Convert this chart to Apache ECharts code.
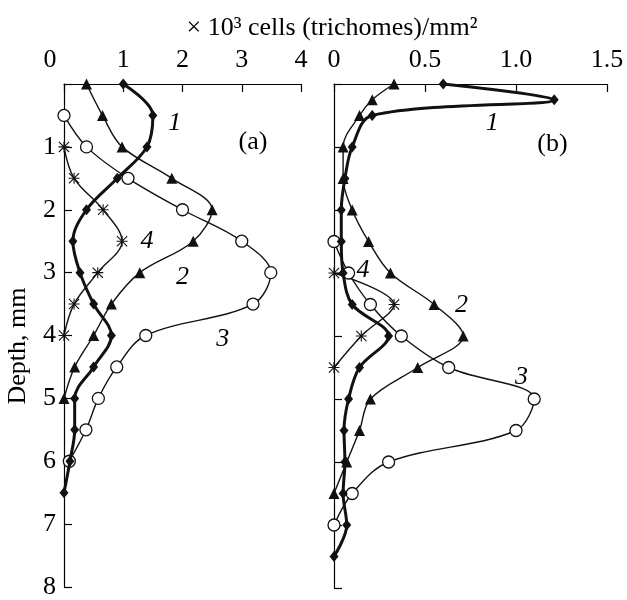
<!DOCTYPE html>
<html>
<head>
<meta charset="utf-8">
<script src="https://cdn.jsdelivr.net/npm/echarts@6/dist/echarts.min.js"></script>
<style>
html, body { margin: 0; padding: 0; background: #fff; }
#chart { width: 627px; height: 600px; }
</style>
</head>
<body>
<div id="chart"></div>
<script>
// panel (a): x = cells x10^3 / mm2, depth in mm
var depthA1 = [0, 0.5, 1, 1.5, 2, 2.5, 3, 3.5, 4, 4.5, 5, 5.5, 6, 6.5];
var valA1 = [1.0, 1.5, 1.4, 0.9, 0.38, 0.15, 0.27, 0.5, 0.8, 0.5, 0.18, 0.18, 0.1, 0];
var depthA2 = [0, 0.5, 1, 1.5, 2, 2.5, 3, 3.5, 4, 4.5, 5];
var valA2 = [0.38, 0.65, 0.98, 1.82, 2.5, 2.18, 1.28, 0.8, 0.5, 0.18, 0];
var depthA3 = [0.5, 1, 1.5, 2, 2.5, 3, 3.5, 4, 4.5, 5, 5.5, 6];
var valA3 = [0, 0.38, 1.08, 2.0, 3.0, 3.49, 3.19, 1.38, 0.89, 0.58, 0.37, 0.09];
var depthA4 = [1, 1.5, 2, 2.5, 3, 3.5, 4];
var valA4 = [0, 0.17, 0.66, 0.98, 0.57, 0.17, 0];

// panel (b)
var depthB1 = [0, 0.25, 0.5, 1, 1.5, 2, 2.5, 3, 3.5, 4, 4.5, 5, 5.5, 6, 6.5, 7, 7.5];
var valB1 = [0.6, 1.21, 0.21, 0.1, 0.06, 0.04, 0.04, 0.05, 0.1, 0.3, 0.14, 0.08, 0.055, 0.06, 0.05, 0.07, 0];
var depthB2 = [0, 0.25, 0.5, 1, 1.5, 2, 2.5, 3, 3.5, 4, 4.5, 5, 5.5, 6, 6.5];
var valB2 = [0.33, 0.21, 0.14, 0.05, 0.05, 0.1, 0.19, 0.31, 0.55, 0.71, 0.46, 0.2, 0.14, 0.07, 0];
var depthB3 = [2.5, 3, 3.5, 4, 4.5, 5, 5.5, 6, 6.5, 7];
var valB3 = [0, 0.08, 0.2, 0.37, 0.63, 1.1, 1.0, 0.3, 0.1, 0];
var depthB4 = [3, 3.5, 4, 4.5];
var valB4 = [0, 0.33, 0.15, 0];

// axis ticks
var ticksA = [0, 1, 2, 3, 4];
var ticksB = [0, 0.5, 1.0, 1.5];
var depthTicks = [0, 1, 2, 3, 4, 5, 6, 7, 8];

// curve labels [x, depth, text]
var notesA = [[1.87, 0.62, "1"], [3.19, 0.92, "(a)"], [1.4, 2.5, "4"], [2.0, 3.08, "2"], [2.68, 4.06, "3"]];
var notesB = [[0.87, 0.62, "1"], [1.2, 0.95, "(b)"], [0.16, 2.96, "4"], [0.7, 3.51, "2"], [1.03, 4.65, "3"]];

var FONT = "'Liberation Serif', 'Times New Roman', serif";
var FS = 26;
var asterisk = "path://M9,0L11,0L11,20L9,20Z M0,9L20,9L20,11L0,11Z M1.4,0L20,18.6L18.6,20L0,1.4Z M18.6,0L20,1.4L1.4,20L0,18.6Z";

function pairs(xs, ds) {
	var out = [];
	for (var i = 0; i < xs.length; i++) out.push([xs[i], ds[i]]);
	return out;
}

function curve(grid, xs, ds, kind) {
	var s = {
		type: "line",
		xAxisIndex: grid,
		yAxisIndex: grid,
		data: pairs(xs, ds),
		smooth: 0.35,
		clip: false,
		lineStyle: { color: "#111", width: 1.4 },
		itemStyle: { color: "#111" },
		emphasis: { disabled: true }
	};
	if (kind == 1) {
		s.symbol = "diamond"; s.symbolSize = [9, 11];
		s.lineStyle.width = 3;
		s.z = 5;
	} else if (kind == 2) {
		s.symbol = "triangle"; s.symbolSize = 11;
	} else if (kind == 3) {
		s.symbol = "circle"; s.symbolSize = 12;
		s.itemStyle = { color: "#fff", borderColor: "#111", borderWidth: 1.3 };
	} else {
		s.symbol = asterisk; s.symbolSize = 11;
	}
	return s;
}

function notes(grid, list) {
	return {
		type: "scatter",
		xAxisIndex: grid,
		yAxisIndex: grid,
		symbolSize: 1,
		itemStyle: { color: "rgba(0,0,0,0)", opacity: 1 },
		silent: true,
		z: 6,
		data: list.map(function (n) {
			return {
				value: [n[0], n[1]], name: n[2],
				label: { fontStyle: n[2].charAt(0) == "(" ? "normal" : "italic" }
			};
		}),
		label: {
			show: true,
			position: "inside",
			formatter: function (p) { return p.name; },
			fontFamily: FONT,
			fontSize: FS,
			color: "#000",
			opacity: 1
		}
	};
}

var chart = echarts.init(document.getElementById("chart"));

var axLine = { show: true, lineStyle: { color: "#000", width: 1.2 } };
var axTick = { show: true, inside: true, length: 8, lineStyle: { color: "#000", width: 1.2 } };

chart.setOption({
	animation: false,
	backgroundColor: "#fff",
	graphic: [
		{
			type: "text", x: 332, y: 28,
			style: { text: "× 10³ cells (trichomes)/mm²", font: FS + "px " + FONT, fill: "#000", align: "center", verticalAlign: "middle" }
		},
		{
			type: "text", x: 18, y: 346, rotation: Math.PI / 2,
			style: { text: "Depth, mm", font: FS + "px " + FONT, fill: "#000", align: "center", verticalAlign: "middle" }
		}
	],
	grid: [
		{ left: 64, top: 84, width: 237, height: 504, containLabel: false },
		{ left: 334, top: 84, width: 273, height: 504, containLabel: false }
	],
	xAxis: [
		{
			gridIndex: 0, type: "value", position: "top",
			min: ticksA[0], max: ticksA[ticksA.length - 1], interval: 1,
			axisLine: axLine, axisTick: axTick, splitLine: { show: false },
			axisLabel: {
				margin: 11, color: "#000", fontFamily: FONT, fontSize: FS,
				formatter: function (v) { return v === 0 ? "{z|0}" : String(v); },
				rich: { z: { fontFamily: FONT, fontSize: FS, color: "#000", padding: [0, 28, 0, 0] } }
			}
		},
		{
			gridIndex: 1, type: "value", position: "top",
			min: ticksB[0], max: ticksB[ticksB.length - 1], interval: 0.5,
			axisLine: axLine, axisTick: axTick, splitLine: { show: false },
			axisLabel: {
				margin: 11, color: "#000", fontFamily: FONT, fontSize: FS,
				formatter: function (v) { return v === 0 ? "0" : v.toFixed(1); }
			}
		}
	],
	yAxis: [
		{
			gridIndex: 0, type: "value", inverse: true,
			min: depthTicks[0], max: depthTicks[depthTicks.length - 1], interval: 1,
			axisLine: axLine, axisTick: axTick, splitLine: { show: false },
			axisLabel: {
				margin: 8, color: "#000", fontFamily: FONT, fontSize: FS,
				formatter: function (v) { return v === 0 ? "" : String(v); }
			}
		},
		{
			gridIndex: 1, type: "value", inverse: true,
			min: depthTicks[0], max: depthTicks[depthTicks.length - 1], interval: 1,
			axisLine: axLine, axisTick: axTick, splitLine: { show: false },
			axisLabel: { show: false }
		}
	],
	series: [
		curve(0, valA2, depthA2, 2),
		curve(0, valA3, depthA3, 3),
		curve(0, valA4, depthA4, 4),
		curve(0, valA1, depthA1, 1),
		curve(1, valB2, depthB2, 2),
		curve(1, valB3, depthB3, 3),
		curve(1, valB4, depthB4, 4),
		curve(1, valB1, depthB1, 1),
		notes(0, notesA),
		notes(1, notesB)
	]
});
</script>
</body>
</html>
